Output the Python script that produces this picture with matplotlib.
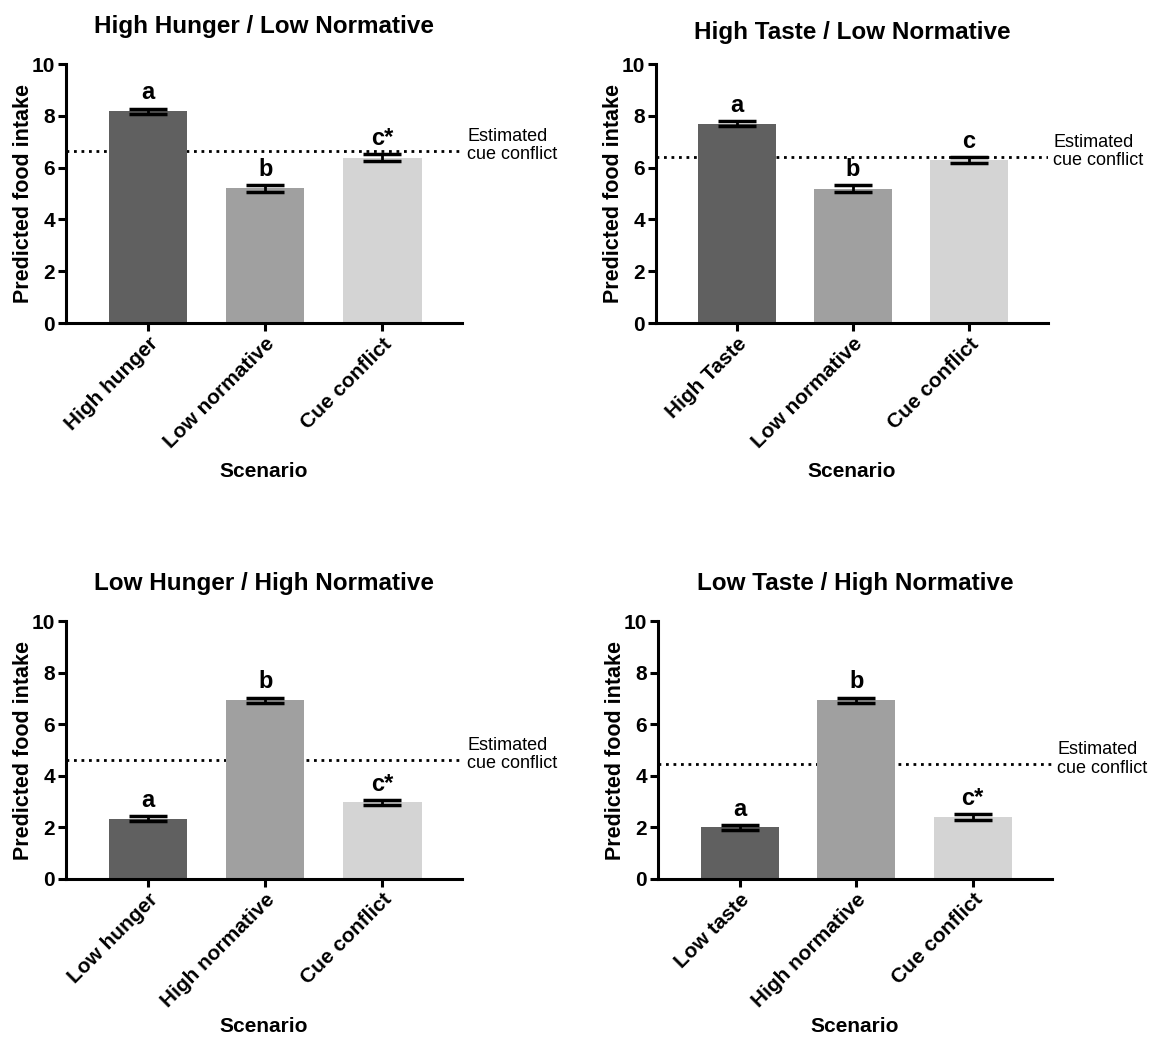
import matplotlib
matplotlib.use("Agg")
import matplotlib.pyplot as plt
import matplotlib.transforms as mtransforms

plt.rcParams["font.family"] = ["Liberation Sans", "DejaVu Sans"]

# -----------------------------
# Data
# -----------------------------
titles = [
    "High Hunger / Low Normative",
    "High Taste / Low Normative",
    "Low Hunger / High Normative",
    "Low Taste / High Normative",
]
categories = [
    ["High hunger", "Low normative", "Cue conflict"],
    ["High Taste", "Low normative", "Cue conflict"],
    ["Low hunger", "High normative", "Cue conflict"],
    ["Low taste", "High normative", "Cue conflict"],
]
means = [
    [8.18, 5.20, 6.38],
    [7.70, 5.18, 6.30],
    [2.33, 6.93, 2.97],
    [2.00, 6.93, 2.40],
]
errors = [
    [0.10, 0.14, 0.13],
    [0.10, 0.14, 0.12],
    [0.10, 0.10, 0.10],
    [0.10, 0.10, 0.10],
]
letters = [
    ["a", "b", "c*"],
    ["a", "b", "c"],
    ["a", "b", "c*"],
    ["a", "b", "c*"],
]
cue_conflict_est = [6.65, 6.42, 4.62, 4.45]

bar_colors = ["#606060", "#a0a0a0", "#d4d4d4"]

# -----------------------------
# Layout (figure fractions)
# -----------------------------
fig = plt.figure(figsize=(11.52, 10.39), dpi=100)
axes_pos = [
    [0.0573, 0.6891, 0.3438, 0.2493],
    [0.5694, 0.6891, 0.3403, 0.2493],
    [0.0573, 0.1540, 0.3438, 0.2483],
    [0.5712, 0.1540, 0.3420, 0.2483],
]
title_pads = [22, 18, 22, 22]

for i in range(4):
    ax = fig.add_axes(axes_pos[i])
    x = list(range(len(categories[i])))

    # estimated cue conflict line, behind the bars
    ax.axhline(cue_conflict_est[i], color="black", linestyle=(0, (1, 1.7)),
               linewidth=2, zorder=1)

    ax.bar(x, means[i], width=0.67, color=bar_colors, zorder=2)
    ax.errorbar(x, means[i], yerr=errors[i], fmt="none", ecolor="black",
                elinewidth=2, capsize=14, capthick=2.5, zorder=3)

    for xi, m, e, lab in zip(x, means[i], errors[i], letters[i]):
        ax.annotate(lab, (xi, m + e), xytext=(0, 3), textcoords="offset points",
                    ha="center", va="bottom", fontsize=17, fontweight="bold")

    trans = mtransforms.blended_transform_factory(ax.transAxes, ax.transData)
    ax.text(1.013, cue_conflict_est[i] + 0.2, "Estimated\ncue conflict",
            transform=trans, ha="left", va="center", fontsize=13,
            linespacing=1.1)

    ax.set_xlim(-0.70, 2.68)
    ax.set_ylim(0, 10)
    ax.set_yticks([0, 2, 4, 6, 8, 10])
    ax.set_xticks(x)
    ax.set_xticklabels(categories[i], rotation=45, ha="right",
                       rotation_mode="anchor", fontsize=15, fontweight="bold")
    for t in ax.get_yticklabels():
        t.set_fontsize(15)
        t.set_fontweight("bold")

    ax.set_title(titles[i], fontsize=17.5, fontweight="bold", pad=title_pads[i])
    ax.set_ylabel("Predicted food intake", fontsize=15.5, fontweight="bold")
    ax.set_xlabel("Scenario", fontsize=15, fontweight="bold")
    ax.yaxis.set_label_coords(-0.082, 0.5)
    ax.xaxis.set_label_coords(0.5, -0.535)

    for side in ["top", "right"]:
        ax.spines[side].set_visible(False)
    for side in ["left", "bottom"]:
        ax.spines[side].set_linewidth(2.2)
    ax.tick_params(axis="both", direction="out", length=6, width=2.2, pad=2)

fig.savefig("out.png", dpi=100)
